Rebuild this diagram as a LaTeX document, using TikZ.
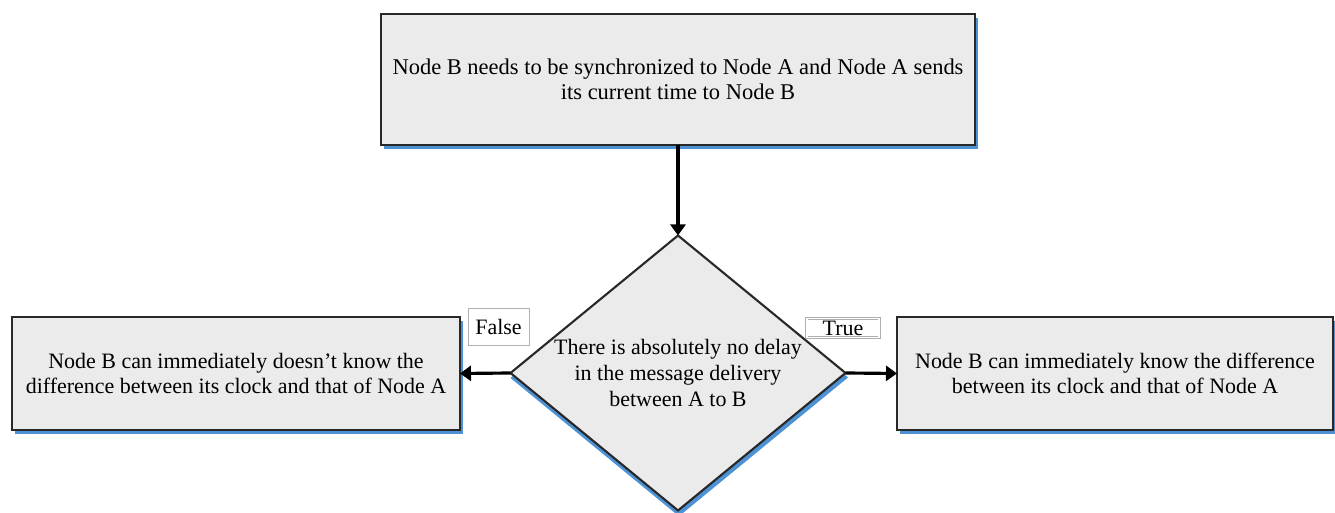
\documentclass[tikz,border=0pt]{standalone}
\usepackage{fontspec}
\setmainfont{Liberation Serif}
\usepackage{tikz}
\usetikzlibrary{positioning,arrows.meta,shapes.geometric,shadows}
\definecolor{SyncGray}{RGB}{235,235,235}
\definecolor{SyncEdge}{RGB}{40,40,40}
\definecolor{SyncBlue}{RGB}{78,146,214}
\definecolor{TagEdge}{RGB}{175,175,175}
\tikzset{
  syncbox/.style={draw=SyncEdge,line width=1.2pt,fill=SyncGray,align=center,outer sep=0pt,
    drop shadow={shadow xshift=0.05cm,shadow yshift=-0.09cm,fill=SyncBlue,opacity=1}},
  syncdiamond/.style={syncbox,diamond,inner sep=0pt,
    drop shadow={shadow xshift=0cm,shadow yshift=-0.1cm,fill=SyncBlue,opacity=1}},
  tagbox/.style={draw=TagEdge,line width=0.5pt,fill=white,inner sep=0pt,outer sep=0pt},
  flow/.style={line width=1.8pt,-{Triangle[length=0.22cm,width=0.3cm]}}
}

\begin{document}
\begin{tikzpicture}[font=\fontsize{12.5}{14.6}\selectfont]
\useasboundingbox (0,0) rectangle (26.7,10.26);
\node[syncbox,minimum width=11.88cm,minimum height=2.62cm,font=\fontsize{12.8}{14.4}\selectfont] (start) at (13.56,8.67) {Node B needs to be synchronized to Node A and Node A sends\\its current time to Node B};
\node[syncdiamond,minimum width=6.7cm,minimum height=5.5cm] (cond) at (13.56,2.8) {};
\node[align=center] (condtext) at (cond.center) {There is absolutely no delay\\in the message delivery\\between A to B};
\node[syncbox,minimum width=8.96cm,minimum height=2.26cm] (nofix) at (4.72,2.79) {Node B  can immediately doesn't know the\\difference between its clock and that of Node A};
\node[syncbox,minimum width=8.72cm,minimum height=2.26cm] (fix) at (22.3,2.79) {Node B  can immediately know the difference\\between its clock and that of Node A};
\draw[flow] (start.south) -- (cond.north);
\draw[flow] (cond.west) -- (nofix.east);
\draw[flow] (cond.east) -- (fix.west);
\node[tagbox,minimum width=1.22cm,minimum height=0.74cm] (nolabel) at (9.97,3.73) {False};
\node[tagbox,double=white,double distance=0.9pt,minimum width=1.45cm,minimum height=0.38cm] (yeslabel) at (16.86,3.70) {True};
\end{tikzpicture}
\end{document}
